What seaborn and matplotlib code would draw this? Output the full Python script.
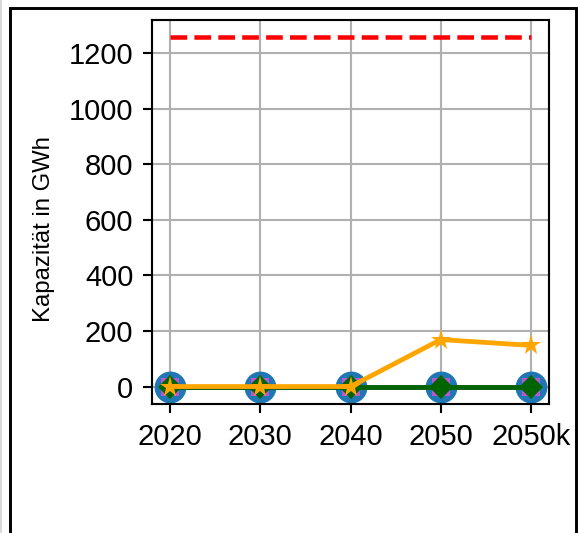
import matplotlib
matplotlib.use("Agg")
import matplotlib.pyplot as plt
import seaborn as sns
import pandas as pd
from matplotlib.patches import Rectangle
from matplotlib.ticker import MultipleLocator

# -------- DATA --------
years = ["2020", "2030", "2040", "2050", "2050k"]
speicher_blau = [0, 0, 0, 0, 0]
speicher_lila = [0, 0, 0, 0, 0]
speicher_gruen = [0, 0, 0, 0, 0]
speicher_orange = [0, 0, 0, 169, 148]
grenze = [1256, 1256, 1256, 1256, 1256]

df = pd.DataFrame({
    "Jahr": years,
    "blau": speicher_blau,
    "lila": speicher_lila,
    "gruen": speicher_gruen,
    "orange": speicher_orange,
    "grenze": grenze,
})

# -------- PLOT --------
plt.rcParams["font.family"] = ["Liberation Sans", "DejaVu Sans"]

dpi = 191
fig = plt.figure(figsize=(578 / dpi, 533 / dpi), dpi=dpi)
ax = fig.add_axes([152 / 578, 1 - 404 / 533, (549 - 152) / 578, (404 - 20) / 533])

sns.lineplot(data=df, x="Jahr", y="blau", ax=ax, sort=False, color="#1f77b4",
             marker="o", markersize=12, markeredgewidth=0, linewidth=1.8)
sns.lineplot(data=df, x="Jahr", y="lila", ax=ax, sort=False, color="mediumorchid",
             marker="s", markersize=6.5, markeredgewidth=0, linewidth=1.8)
sns.lineplot(data=df, x="Jahr", y="gruen", ax=ax, sort=False, color="darkgreen",
             marker="D", markersize=6.5, markeredgewidth=0, linewidth=1.8)
sns.lineplot(data=df, x="Jahr", y="orange", ax=ax, sort=False, color="orange",
             marker="*", markersize=8, markeredgewidth=0, linewidth=1.8)
sns.lineplot(data=df, x="Jahr", y="grenze", ax=ax, sort=False, color="red",
             linestyle="--", linewidth=1.7)

ax.grid(True, color="#b0b0b0", linewidth=0.8)
ax.set_axisbelow(True)
ax.yaxis.set_major_locator(MultipleLocator(200))
ax.set_xlabel("")
ax.set_ylabel("Kapazität in GWh", fontsize=9)
ax.yaxis.set_label_coords(-0.245, 0.456)
ax.tick_params(labelsize=11)
for s in ax.spines.values():
    s.set_color("black")
    s.set_linewidth(0.8)

# screenshot frame
fig.patches.append(Rectangle((9.5 / 578, -0.05), (575.5 - 9.5) / 578, 1.05 - 7.5 / 533,
                             transform=fig.transFigure, fill=False,
                             edgecolor="black", linewidth=1.1))
fig.patches.append(Rectangle((0, 0), 1.5 / 578, 1, transform=fig.transFigure,
                             color="#d8d8d8", linewidth=0))

fig.savefig("out.png", dpi=dpi)
